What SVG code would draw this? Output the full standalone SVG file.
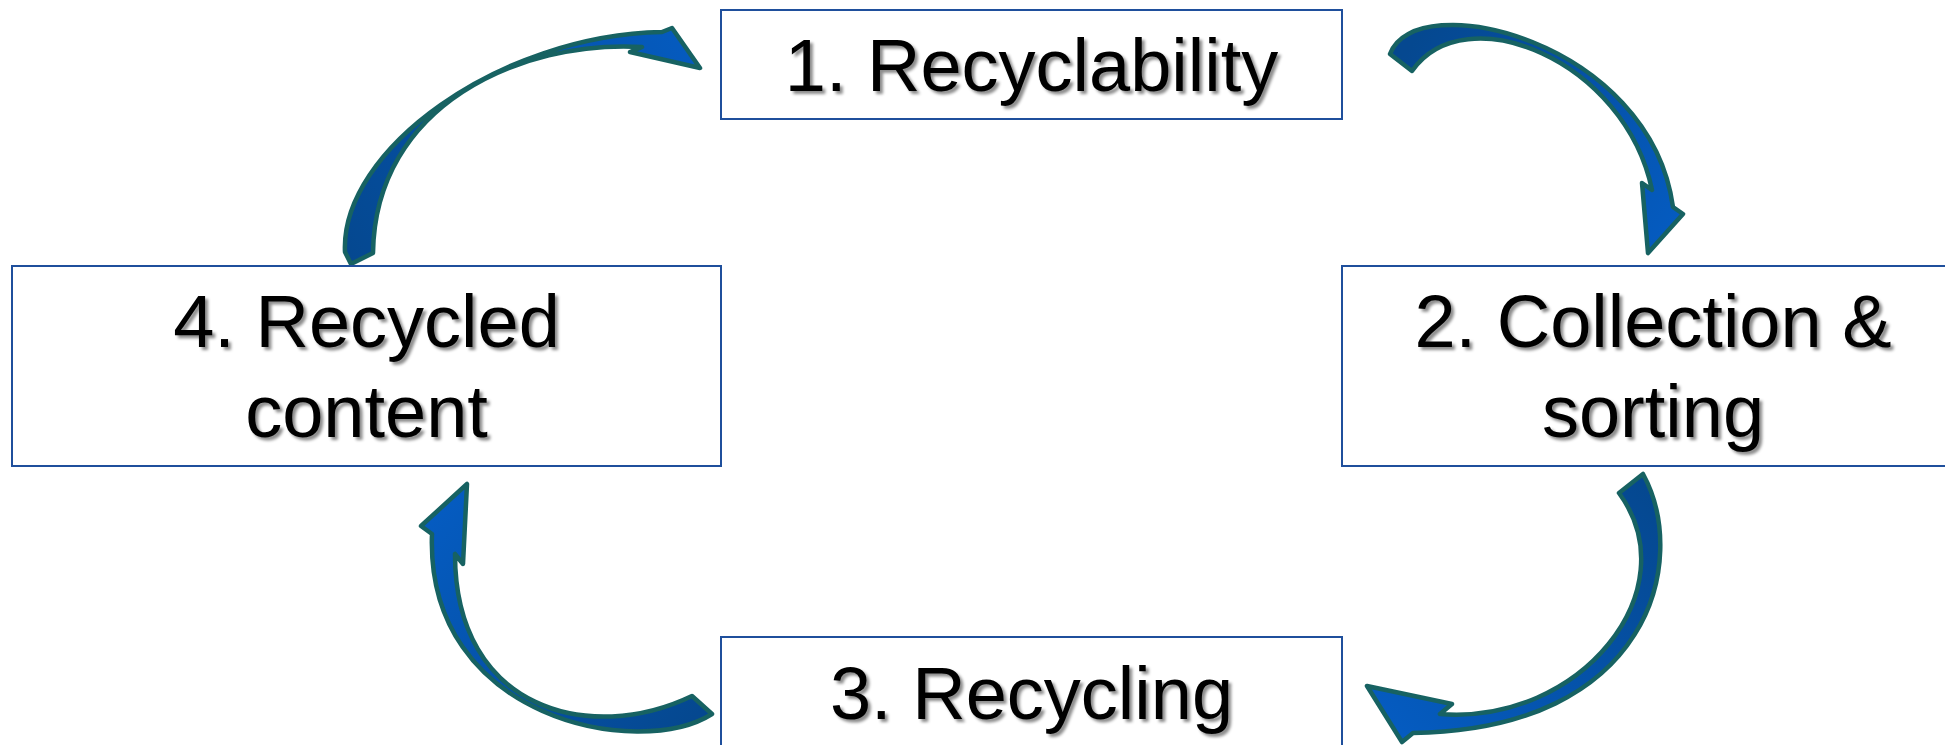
<svg xmlns="http://www.w3.org/2000/svg" width="1945" height="745" viewBox="0 0 1945 745">
  <style>
    .box { fill: #ffffff; stroke: #1f4f9c; stroke-width: 2; }
    .lbl { font-family: "Liberation Sans", Arial, sans-serif; font-size: 74px; fill: #000000; text-anchor: middle; filter: url(#shadow); }
    .arrow { stroke: #176262; stroke-width: 4.5; stroke-linejoin: round; }
  </style>
  <defs>
    <filter id="shadow" x="-10%" y="-20%" width="120%" height="150%">
      <feDropShadow dx="3" dy="3" stdDeviation="1.8" flood-color="#000000" flood-opacity="0.45"/>
    </filter>
    <linearGradient id="g1" gradientUnits="userSpaceOnUse" x1="350" y1="260" x2="700" y2="40">
      <stop offset="0" stop-color="#054890"/>
      <stop offset="1" stop-color="#055bc0"/>
    </linearGradient>
    <linearGradient id="g2" gradientUnits="userSpaceOnUse" x1="1400" y1="60" x2="1660" y2="250">
      <stop offset="0" stop-color="#054890"/>
      <stop offset="1" stop-color="#055bc0"/>
    </linearGradient>
    <linearGradient id="g3" gradientUnits="userSpaceOnUse" x1="1640" y1="480" x2="1390" y2="720">
      <stop offset="0" stop-color="#054890"/>
      <stop offset="1" stop-color="#055bc0"/>
    </linearGradient>
    <linearGradient id="g4" gradientUnits="userSpaceOnUse" x1="700" y1="710" x2="450" y2="500">
      <stop offset="0" stop-color="#054890"/>
      <stop offset="1" stop-color="#055bc0"/>
    </linearGradient>
  </defs>
  <rect width="1945" height="745" fill="#ffffff"/>

  <g id="connectors">
    <path id="arrow-4-1" class="arrow" fill="url(#g1)" d="M351,264 L345,252 C340,150 500,35 662,32 L672,28 L700,68 L630,52 L642,47 C520,40 375,105 373,253 Z"/>
    <path id="arrow-1-2" class="arrow" fill="url(#g2)" d="M1412,71 L1390,54 C1415,-15 1650,40 1673,207 L1683,214 L1648,253 L1642,183 L1652,190 C1625,60 1465,-5 1412,71 Z"/>
    <path id="arrow-2-3" class="arrow" fill="url(#g3)" d="M1619,493 L1643,474 C1690,560 1650,730 1413,733 L1402,742 L1367,686 L1452,704 L1440,714 C1580,725 1690,590 1619,493 Z"/>
    <path id="arrow-3-4" class="arrow" fill="url(#g4)" d="M692,696 L712,714 C640,760 425,720 432,534 L421,526 L467,484 L463,564 L455,554 C455,710 590,745 692,696 Z"/>
  </g>

  <g id="node-1">
    <rect class="box" x="721" y="10" width="621" height="109"/>
    <text class="lbl" x="1031.5" y="91">1. Recyclability</text>
  </g>
  <g id="node-2">
    <rect class="box" x="1342" y="266" width="622" height="200"/>
    <text class="lbl" x="1653" y="347">2. Collection &amp;</text>
    <text class="lbl" x="1653" y="437">sorting</text>
  </g>
  <g id="node-3">
    <rect class="box" x="721" y="637" width="621" height="110"/>
    <text class="lbl" x="1031.5" y="719">3. Recycling</text>
  </g>
  <g id="node-4">
    <rect class="box" x="12" y="266" width="709" height="200"/>
    <text class="lbl" x="366.5" y="347">4. Recycled</text>
    <text class="lbl" x="366.5" y="437">content</text>
  </g>
</svg>
